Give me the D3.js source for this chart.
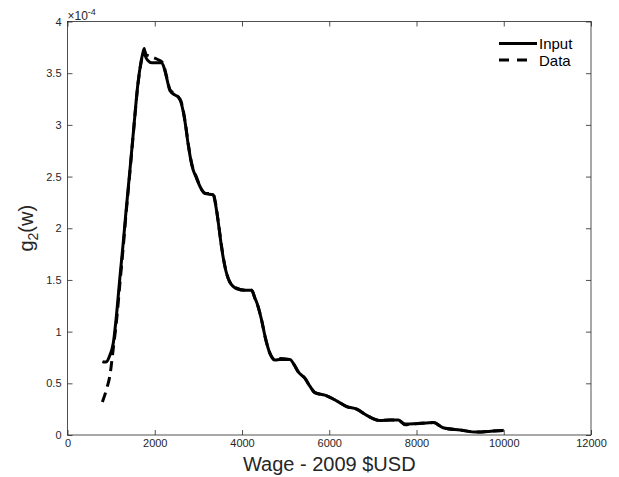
<!DOCTYPE html>
<html>
<head>
<meta charset="utf-8">
<script src="https://cdn.jsdelivr.net/npm/d3@7"></script>
<style>
  html, body { margin: 0; padding: 0; background: #fff; }
  svg { display: block; font-family: "Liberation Sans", Arial, Helvetica, sans-serif; }
</style>
</head>
<body>
<svg id="chart" width="619" height="477"></svg>
<script>
// Wage density g2(w), values in units of 1e-4
const inputWage = [800, 850, 900, 960, 1050, 1130, 1200, 1280, 1330, 1430, 1510, 1620, 1690, 1730, 1760, 1790, 1850, 1930, 2160, 2200, 2270, 2350, 2460, 2540, 2600, 2690, 2770, 2850, 2960, 3080, 3150, 3340, 3390, 3460, 3530, 3610, 3720, 3880, 4070, 4220, 4300, 4340, 4450, 4530, 4640, 4760, 4870, 5100, 5180, 5290, 5440, 5560, 5670, 5900, 6170, 6400, 6630, 6860, 7160, 7390, 7580, 7740, 8000, 8390, 8610, 9000, 9380, 9760, 10000];
const inputDensity = [0.71, 0.705, 0.71, 0.76, 0.89, 1.19, 1.52, 1.87, 2.11, 2.56, 2.93, 3.42, 3.62, 3.70, 3.74, 3.66, 3.62, 3.60, 3.60, 3.57, 3.46, 3.33, 3.29, 3.27, 3.22, 3.04, 2.80, 2.61, 2.48, 2.37, 2.335, 2.325, 2.24, 2.045, 1.82, 1.625, 1.48, 1.415, 1.40, 1.40, 1.32, 1.28, 1.11, 0.95, 0.79, 0.725, 0.73, 0.73, 0.69, 0.61, 0.55, 0.47, 0.41, 0.385, 0.33, 0.275, 0.25, 0.19, 0.14, 0.145, 0.145, 0.106, 0.11, 0.12, 0.07, 0.048, 0.028, 0.038, 0.045];

const dataWage = [800, 900, 970, 1050, 1130, 1200, 1280, 1330, 1430, 1510, 1620, 1690, 1730, 1760, 1800, 1850, 1970, 2080, 2160, 2200, 2270, 2350, 2460, 2540, 2600, 2690, 2770, 2850, 2960, 3080, 3150, 3340, 3390, 3460, 3530, 3610, 3720, 3880, 4070, 4220, 4300, 4340, 4450, 4530, 4640, 4760, 4870, 5100, 5180, 5290, 5440, 5560, 5670, 5900, 6170, 6400, 6630, 6860, 7160, 7390, 7580, 7740, 8000, 8390, 8610, 9000, 9380, 9760, 10000];
const dataDensity = [0.32, 0.45, 0.57, 0.84, 1.13, 1.46, 1.83, 2.08, 2.54, 2.92, 3.41, 3.61, 3.69, 3.72, 3.68, 3.67, 3.65, 3.63, 3.61, 3.58, 3.47, 3.34, 3.30, 3.27, 3.23, 3.05, 2.81, 2.62, 2.49, 2.37, 2.34, 2.33, 2.25, 2.05, 1.83, 1.63, 1.48, 1.42, 1.40, 1.40, 1.32, 1.28, 1.11, 0.95, 0.79, 0.725, 0.74, 0.73, 0.69, 0.61, 0.55, 0.47, 0.41, 0.385, 0.33, 0.275, 0.25, 0.19, 0.14, 0.145, 0.145, 0.10, 0.11, 0.12, 0.07, 0.048, 0.028, 0.038, 0.045];

const xTicks = [0, 2000, 4000, 6000, 8000, 10000, 12000];
const yTicks = [0, 0.5, 1, 1.5, 2, 2.5, 3, 3.5, 4];
const seriesNames = ["Input", "Data"];

const axisColor = "#262626";
const margin = { left: 67.5, right: 28, top: 21.5, bottom: 42 };
const W = 619, H = 477;
const svg = d3.select("#chart");

const x = d3.scaleLinear().domain([0, 12000]).range([margin.left, W - margin.right]);
const y = d3.scaleLinear().domain([0, 4]).range([H - margin.bottom, margin.top]);

const x0 = x.range()[0], x1 = x.range()[1];
const y0 = y.range()[0], y1 = y.range()[1];

// Box and inward ticks on all four sides
const tickLen = 5;
const axes = svg.append("g").attr("stroke", axisColor).attr("stroke-width", 0.8).attr("fill", "none");
axes.append("rect").attr("x", x0).attr("y", y1).attr("width", x1 - x0).attr("height", y0 - y1);

const bottomAxis = d3.axisBottom(x).tickValues(xTicks).tickSize(-tickLen).tickFormat(d3.format("d"));
const topAxis = d3.axisTop(x).tickValues(xTicks).tickSize(-tickLen).tickFormat("");
const leftAxis = d3.axisLeft(y).tickValues(yTicks).tickSize(-tickLen).tickFormat(d => d3.format("")(d));
const rightAxis = d3.axisRight(y).tickValues(yTicks).tickSize(-tickLen).tickFormat("");

function style(g) {
  g.select(".domain").remove();
  g.selectAll(".tick line").attr("stroke", axisColor).attr("stroke-width", 0.8);
  g.selectAll(".tick text").attr("fill", axisColor).attr("font-size", 11);
}
svg.append("g").attr("transform", `translate(0,${y0})`).call(bottomAxis).call(style)
  .selectAll(".tick text").attr("dy", "0.71em").attr("y", 4.5);
svg.append("g").attr("transform", `translate(0,${y1})`).call(topAxis).call(style);
svg.append("g").attr("transform", `translate(${x0},0)`).call(leftAxis).call(style)
  .selectAll(".tick text").attr("x", -6);
svg.append("g").attr("transform", `translate(${x1},0)`).call(rightAxis).call(style);

// Exponent multiplier
const mult = svg.append("text").attr("x", x0).attr("y", 19.5).attr("fill", axisColor).attr("font-size", 12);
mult.append("tspan").text("×10");
mult.append("tspan").attr("font-size", 9).attr("dy", -5).text("-4");

// Curves
const line = d3.line().x(d => x(d[0])).y(d => y(d[1])).curve(d3.curveMonotoneX);
const inputPts = inputWage.map((w, i) => [w, inputDensity[i]]);
const dataPts = dataWage.map((w, i) => [w, dataDensity[i]]);

svg.append("path").datum(inputPts).attr("d", line)
  .attr("fill", "none").attr("stroke", "#000").attr("stroke-width", 3).attr("stroke-linejoin", "round");
svg.append("path").datum(dataPts).attr("d", line)
  .attr("fill", "none").attr("stroke", "#000").attr("stroke-width", 3).attr("stroke-dasharray", "10,6");

// Legend
const legend = svg.append("g");
const styles = [null, "10,8"];
const lineEnds = [537, 527];
seriesNames.forEach((name, i) => {
  const ly = 43.5 + i * 16.5;
  legend.append("line").attr("x1", 499).attr("x2", lineEnds[i]).attr("y1", ly).attr("y2", ly)
    .attr("stroke", "#000").attr("stroke-width", 3).attr("stroke-dasharray", styles[i]);
  legend.append("text").attr("x", 539).attr("y", ly + 5.5).attr("font-size", 15).attr("fill", "#000").text(name);
});

// Axis titles
svg.append("text").attr("x", (x0 + x1) / 2).attr("y", 471).attr("text-anchor", "middle")
  .attr("font-size", 20).attr("fill", axisColor).text("Wage - 2009 $USD");

const yl = svg.append("text").attr("transform", `translate(33,${(y0 + y1) / 2}) rotate(-90)`)
  .attr("text-anchor", "middle").attr("font-size", 20).attr("fill", axisColor);
yl.append("tspan").text("g");
yl.append("tspan").attr("font-size", 14).attr("dy", 5).text("2");
yl.append("tspan").attr("dy", -5).text("(w)");
</script>
</body>
</html>
